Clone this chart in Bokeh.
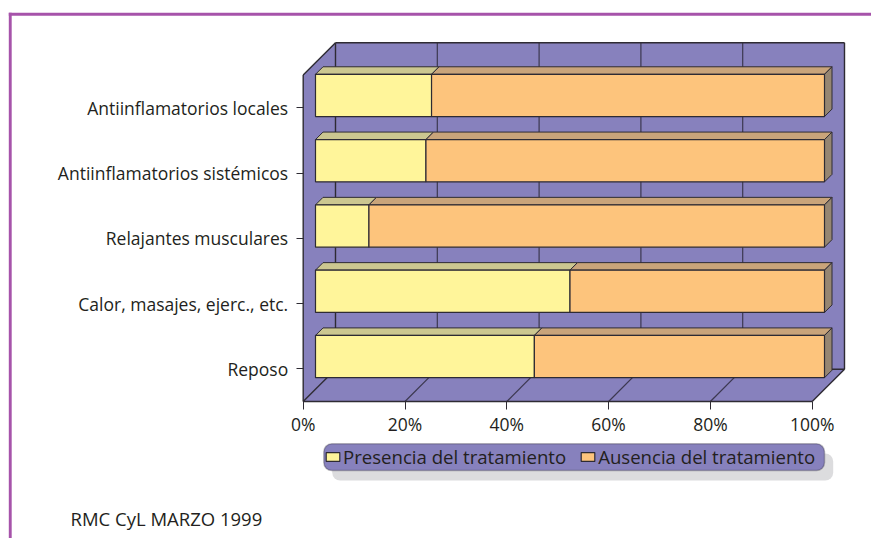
from bokeh.plotting import figure
from bokeh.models import (Range1d, FixedTicker, PrintfTickFormatter, Legend, LegendItem,
                          BoxAnnotation, Label, ColumnDataSource, LinearAxis)
from bokeh.embed import file_html
from bokeh.resources import INLINE

# ---------------- data ----------------
categories = ["Reposo", "Calor, masajes, ejerc., etc.", "Relajantes musculares",
              "Antiinflamatorios sistémicos", "Antiinflamatorios locales"]
presencia = [43.0, 50.0, 10.5, 21.7, 22.8]
ausencia = [57.0, 50.0, 89.5, 78.3, 77.2]
x_ticks = [0, 20, 40, 60, 80, 100]
series_names = ["Presencia del tratamiento", "Ausencia del tratamiento"]
footer = "RMC CyL  MARZO 1999"

# ---------------- layout / style ----------------
W, H = 871, 538
FL, FT, FR, FB = 302.7, 42.3, 844.0, 401.0    # 3D box edges (canvas px)
DEPTH = 32.3                                  # 3D depth in px
PX_PCT = (FR - FL - DEPTH) / 100.0            # px per percent on front plane
N = len(categories)
PX_UNIT = (FB - FT - DEPTH) / N               # px per category unit
DX = DEPTH / PX_PCT
DY = DEPTH / PX_UNIT
F1, F2 = 12.3 / DEPTH, 19.8 / DEPTH           # bar depth interval (fraction)
BAR_H = 0.648

WALL = "#8781BD"
EDGE = "#2E2B33"
GRID = "#3C3850"
TXT = "#231F20"
FONT = "Open Sans"

YEL_F, YEL_T = "#FFF59A", "#CCC790"
ORA_F, ORA_T, ORA_S = "#FDC47C", "#C9A47A", "#968672"


def cx(px):  # canvas px -> data x
    return (px - FL) / PX_PCT


def cy(py):  # canvas px -> data y
    return (FB - py) / PX_UNIT


p = figure(width=W, height=H, output_backend="svg", toolbar_location=None,
           x_range=Range1d(cx(0), cx(W)), y_range=Range1d(cy(H), cy(0)),
           x_axis_location=None, y_axis_location=None, min_border=0)
p.outline_line_color = None
p.background_fill_color = "white"
p.border_fill_color = "white"
p.xgrid.visible = False
p.ygrid.visible = False

# ---------------- walls ----------------
p.patches(xs=[[0, 0, DX, DX], [0, 100, 100 + DX, DX], [DX, 100 + DX, 100 + DX, DX]],
          ys=[[0, N, N + DY, DY], [0, 0, DY, DY], [DY, DY, N + DY, N + DY]],
          fill_color=WALL, line_color=None)

# grid lines on back wall and floor
gx, gy = [], []
for t in x_ticks[1:-1]:
    gx.append([t + DX, t + DX]); gy.append([DY, N + DY])
    gx.append([t, t + DX]); gy.append([0, DY])
p.multi_line(gx, gy, line_color=GRID, line_width=1.2)

# wall edges
ex = [[0, 0], [0, DX], [DX, 100 + DX], [100 + DX, 100 + DX], [100 + DX, 100],
      [0, 100], [DX, DX], [DX, 100 + DX], [0, DX]]
ey = [[0, N], [N, N + DY], [N + DY, N + DY], [N + DY, DY], [DY, 0],
      [0, 0], [DY, N + DY], [DY, DY], [0, DY]]
p.multi_line(ex, ey, line_color=EDGE, line_width=1.4)

# ---------------- bars ----------------
yc = [i + 0.5 for i in range(N)]
pres_end = presencia
aus_start = presencia
aus_end = [a + b for a, b in zip(presencia, ausencia)]


def front(x0, x1):
    return dict(left=[a + DX * F1 for a in x0], right=[b + DX * F1 for b in x1],
                bottom=[y - BAR_H / 2 + DY * F1 for y in yc],
                top=[y + BAR_H / 2 + DY * F1 for y in yc])


def topface(x0, x1):
    xs, ys = [], []
    for a, b, y in zip(x0, x1, yc):
        t = y + BAR_H / 2
        xs.append([a + DX * F1, b + DX * F1, b + DX * F2, a + DX * F2])
        ys.append([t + DY * F1, t + DY * F1, t + DY * F2, t + DY * F2])
    return dict(xs=xs, ys=ys)


def sideface(x1):
    xs, ys = [], []
    for b, y in zip(x1, yc):
        t, bt = y + BAR_H / 2, y - BAR_H / 2
        xs.append([b + DX * F1, b + DX * F2, b + DX * F2, b + DX * F1])
        ys.append([bt + DY * F1, bt + DY * F2, t + DY * F2, t + DY * F1])
    return dict(xs=xs, ys=ys)


zeros = [0.0] * N
p.patches(source=ColumnDataSource(topface(zeros, pres_end)), xs="xs", ys="ys",
          fill_color=YEL_T, line_color=EDGE, line_width=1)
p.patches(source=ColumnDataSource(topface(aus_start, aus_end)), xs="xs", ys="ys",
          fill_color=ORA_T, line_color=EDGE, line_width=1)
p.patches(source=ColumnDataSource(sideface(aus_end)), xs="xs", ys="ys",
          fill_color=ORA_S, line_color=EDGE, line_width=1)
r_pres = p.quad(source=ColumnDataSource(front(zeros, pres_end)),
                left="left", right="right", bottom="bottom", top="top",
                fill_color=YEL_F, line_color=EDGE, line_width=1.2)
r_aus = p.quad(source=ColumnDataSource(front(aus_start, aus_end)),
               left="left", right="right", bottom="bottom", top="top",
               fill_color=ORA_F, line_color=EDGE, line_width=1.2)

# ---------------- axes (fixed at the front plane) ----------------
xa = LinearAxis(fixed_location=0)
xa.ticker = FixedTicker(ticks=x_ticks)
xa.formatter = PrintfTickFormatter(format="%d%%")
xa.axis_line_color = None
xa.major_tick_in = 0
xa.major_tick_out = 8
xa.major_tick_line_color = EDGE
xa.minor_tick_line_color = None
xa.major_label_standoff = 2
xa.major_label_text_font = FONT
xa.major_label_text_font_size = "17.5px"
xa.major_label_text_color = TXT
p.add_layout(xa, "below")

ya = LinearAxis(fixed_location=0)
ya.ticker = FixedTicker(ticks=yc)
ya.major_label_overrides = {y: c for y, c in zip(yc, categories)}
ya.axis_line_color = None
ya.major_tick_in = 0
ya.major_tick_out = 7
ya.major_tick_line_color = EDGE
ya.minor_tick_line_color = None
ya.major_label_standoff = 8
ya.major_label_text_font = FONT
ya.major_label_text_font_size = "17.5px"
ya.major_label_text_color = TXT
p.add_layout(ya, "left")

# ---------------- legend ----------------
shadow = BoxAnnotation(left=cx(331.7), right=cx(832.7), top=cy(453), bottom=cy(480),
                       fill_color="#DCDCDE", fill_alpha=1, line_color=None, border_radius=8)
lbg = BoxAnnotation(left=cx(323.3), right=cx(824), top=cy(443.3), bottom=cy(470),
                    fill_color=WALL, fill_alpha=1, line_color=EDGE, line_width=1.5,
                    border_radius=8)
p.add_layout(shadow)
p.add_layout(lbg)

legend = Legend(items=[LegendItem(label=series_names[0], renderers=[r_pres]),
                       LegendItem(label=series_names[1], renderers=[r_aus])],
                orientation="horizontal", location=(324, 69),
                background_fill_alpha=0, border_line_color=None,
                padding=4, spacing=13, label_standoff=2,
                glyph_width=17, glyph_height=11, label_height=16,
                label_text_font=FONT, label_text_font_size="18.6px",
                label_text_color=TXT)
p.add_layout(legend)

# ---------------- footer & border ----------------
p.add_layout(Label(x=cx(70), y=cy(518), text=footer, text_font=FONT,
                   text_font_size="18.5px", text_color=TXT, text_baseline="alphabetic"))
BORDER = "#A653AA"
p.add_layout(BoxAnnotation(left=cx(8.3), right=cx(11.2), top=cy(12.3), bottom=cy(H + 5),
                           fill_color=BORDER, fill_alpha=1, line_color=None))
p.add_layout(BoxAnnotation(left=cx(8.3), right=cx(W + 5), top=cy(12.3), bottom=cy(15.2),
                           fill_color=BORDER, fill_alpha=1, line_color=None))

open("out.html", "w").write(file_html(p, INLINE))
